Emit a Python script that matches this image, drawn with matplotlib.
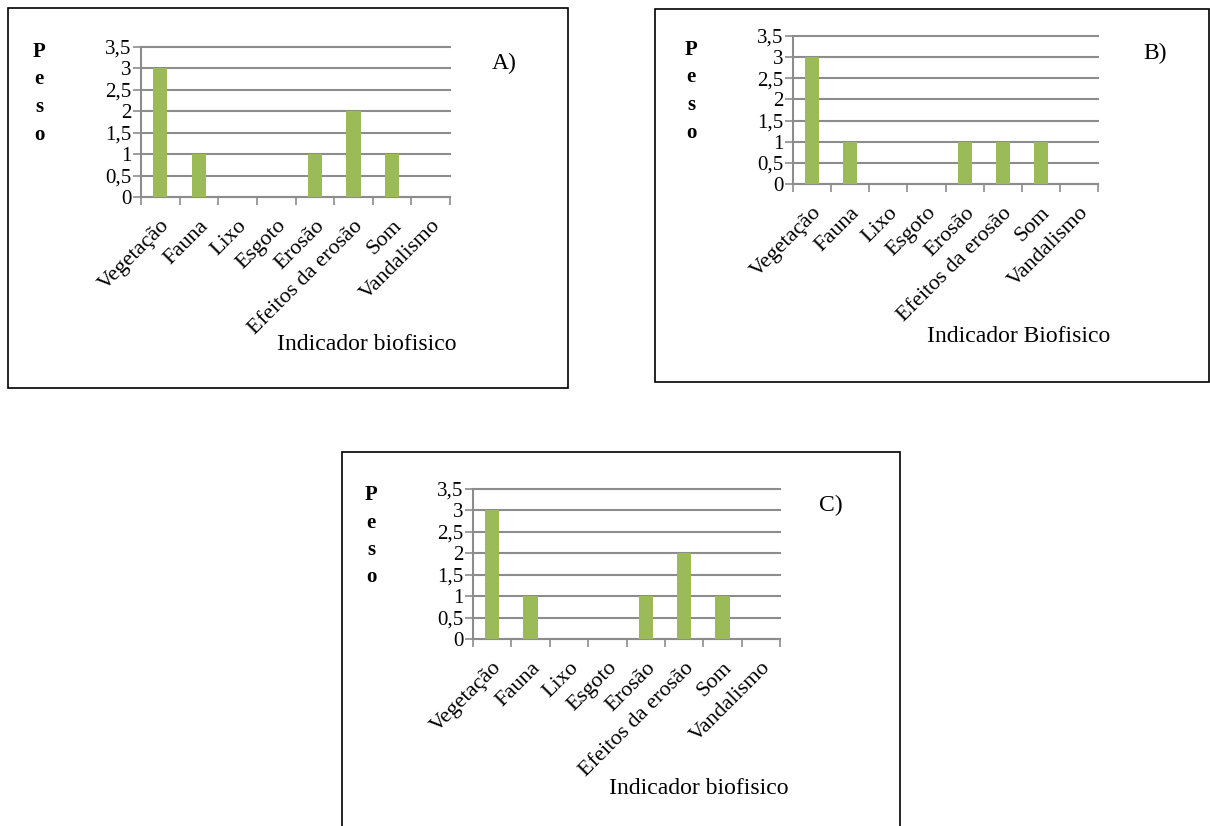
import numpy as np
import matplotlib
matplotlib.use("Agg")
import matplotlib.pyplot as plt
from matplotlib.patches import Rectangle
from matplotlib.transforms import ScaledTranslation

plt.rcParams['font.family'] = ['Liberation Serif', 'DejaVu Serif']

categorias = ["Vegetação", "Fauna", "Lixo", "Esgoto", "Erosão",
              "Efeitos da erosão", "Som", "Vandalismo"]
peso_a = [3, 1, 0, 0, 1, 2, 1, 0]
peso_b = [3, 1, 0, 0, 1, 1, 1, 0]
peso_c = [3, 1, 0, 0, 1, 2, 1, 0]
yticks = [0, 0.5, 1, 1.5, 2, 2.5, 3, 3.5]
ytick_labels = ["0", "0,5", "1", "1,5", "2", "2,5", "3", "3,5"]

W, H = 1210, 826
fig = plt.figure(figsize=(W / 100, H / 100), dpi=100)
fig.patch.set_facecolor('white')

BAR = '#9BBB59'
GRID = '#8C8C8C'


def px_rect(x0, y0, x1, y1):
    # pixel box (top-left origin) -> figure fraction [l, b, w, h]
    return [x0 / W, 1 - y1 / H, (x1 - x0) / W, (y1 - y0) / H]


def painel(box, ax_px, valores, letra, letra_xy, xlabel, xlabel_xy, peso_xy):
    # moldura do painel
    bx0, by0, bx1, by1 = box
    fig.patches.append(Rectangle((bx0 / W, 1 - by1 / H), (bx1 - bx0) / W, (by1 - by0) / H,
                                 transform=fig.transFigure, fill=False,
                                 edgecolor='black', linewidth=1.2))
    ax = fig.add_axes(px_rect(*ax_px))
    x = np.arange(len(categorias))
    ax.bar(x, valores, width=0.37, color=BAR, zorder=3)
    ax.set_xlim(-0.5, len(categorias) - 0.5)
    ax.set_ylim(0, 3.5)
    ax.set_yticks(yticks)
    ax.set_yticklabels(ytick_labels, fontsize=15)
    ax.yaxis.grid(True, color=GRID, linewidth=1.5, zorder=0)
    for gl in ax.get_ygridlines():
        gl.set_clip_on(False)
    ax.set_axisbelow(True)
    # ticks nas fronteiras das categorias
    ax.set_xticks(np.arange(-0.5, len(categorias), 1.0))
    ax.set_xticklabels([])
    ax.set_xticks(x, minor=True)
    ax.set_xticklabels(categorias, minor=True, rotation=45, ha='right',
                       rotation_mode='anchor', fontsize=16)
    off = ScaledTranslation(-4 / 72, 0, fig.dpi_scale_trans)
    for lab in ax.get_xticklabels(minor=True):
        lab.set_transform(lab.get_transform() + off)
    ax.tick_params(axis='x', which='minor', length=0, pad=14)
    ax.tick_params(axis='x', which='major', length=6, color=GRID, width=1.2)
    ax.tick_params(axis='y', length=6, color=GRID, width=1.2, pad=1)
    for s in ['top', 'right']:
        ax.spines[s].set_visible(False)
    for s in ['left', 'bottom']:
        ax.spines[s].set_color(GRID)
        ax.spines[s].set_linewidth(1.5)
    fig.text(letra_xy[0] / W, 1 - letra_xy[1] / H, letra, fontsize=17,
             ha='center', va='center')
    fig.text(xlabel_xy[0] / W, 1 - xlabel_xy[1] / H, xlabel, fontsize=17,
             ha='center', va='center')
    for i, ch in enumerate("Peso"):
        fig.text(peso_xy[0] / W, 1 - (peso_xy[1] + i * 27.5) / H, ch, fontsize=15,
                 fontweight='bold', ha='center', va='center')
    return ax


painel((8, 8, 568, 388), (141, 47, 450, 197), peso_a, "A)", (504, 63),
       "Indicador biofisico", (367, 345), (39, 52))
painel((655, 9, 1209, 382), (793, 36, 1098, 184), peso_b, "B)", (1155, 53),
       "Indicador Biofisico", (1019, 337), (691, 50))
painel((342, 452, 900, 830), (473, 489, 780, 639), peso_c, "C)", (831, 505),
       "Indicador biofisico", (699, 788), (371, 495))

fig.savefig("out.png", dpi=100, facecolor='white')
